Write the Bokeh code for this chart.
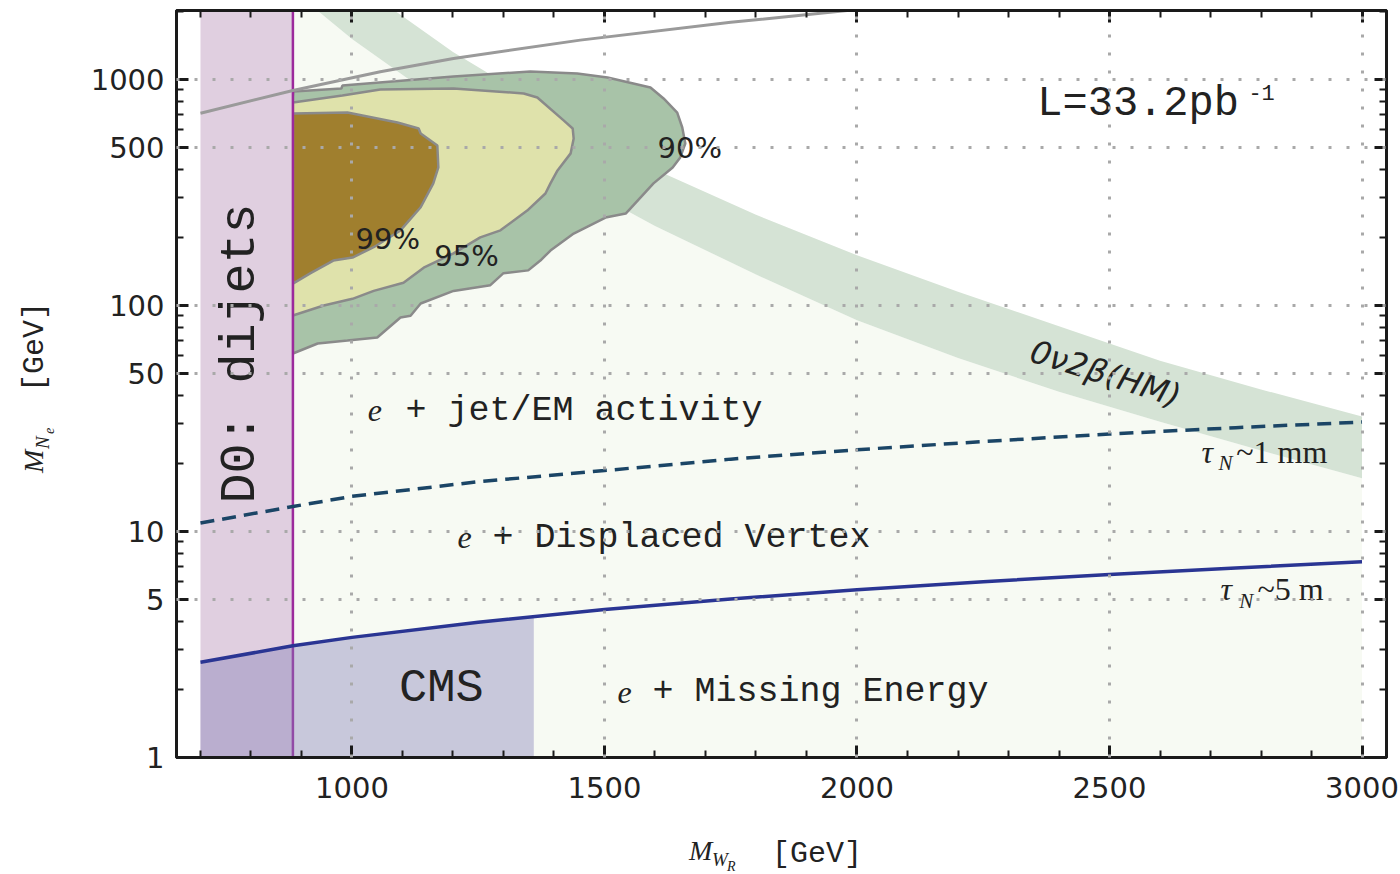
import numpy as np
from bokeh.plotting import figure
from bokeh.layouts import row, column
from bokeh.models import (Range1d, FixedTicker, LinearAxis, LogAxis, NumeralTickFormatter, Div,
                          CustomLabelingPolicy)
from bokeh.core.properties import value
from bokeh.embed import file_html
from bokeh.resources import INLINE

# ---------------- ticks ----------------
x_major = [1000, 1500, 2000, 2500, 3000]
x_minor = [700, 800, 900, 1100, 1200, 1300, 1400, 1600, 1700, 1800, 1900,
           2100, 2200, 2300, 2400, 2600, 2700, 2800, 2900]
y_major = [1, 5, 10, 50, 100, 500, 1000]
y_minor = [2, 3, 4, 6, 7, 8, 9, 20, 30, 40, 60, 70, 80, 90,
           200, 300, 400, 600, 700, 800, 900, 2000]
x_grid = [1000, 1500, 2000, 2500, 3000]
y_grid = [5, 10, 50, 100, 500, 1000]

# ---------------- regions ----------------
d0_left = 700
d0_limit = 883
region_top = 2600

band_x = [883, 1000, 1200, 1400, 1600, 1800, 2000, 2200, 2400, 2600, 2800, 3000]
band_lower = [2480, 1509, 727, 393, 225, 137, 86, 58.5, 41.5, 30.6, 22.8, 17.2]
band_upper = [4500, 2745, 1322, 714, 400, 252, 167, 115, 81, 57, 42.5, 32.3]

cl90_x = [883, 884, 979, 981, 1201, 1353, 1446, 1506, 1591, 1617, 1644, 1654, 1660,
          1650, 1635, 1597, 1542, 1502, 1439, 1393, 1373, 1349, 1300, 1274, 1201,
          1136, 1116, 1096, 1050, 991, 932, 883]
cl90_y = [841, 885, 912, 940, 1031, 1085, 1063, 1021, 922, 824, 714, 613, 521,
          452, 408, 347, 255, 245, 208, 175, 158, 143, 139, 123, 116,
          102, 90, 88.5, 72.2, 70, 67.9, 61.3]

cl95_x = [883, 981, 1056, 1201, 1340, 1367, 1419, 1437, 1439, 1433, 1407, 1393,
          1383, 1347, 1294, 1254, 1201, 1142, 1102, 1043, 1001, 944, 883]
cl95_y = [791, 849, 903, 912, 867, 832, 659, 607, 548, 471, 396, 347,
          313, 263, 215, 200, 170, 147, 126, 116, 107, 100, 90.3]

cl99_x = [883, 991, 1090, 1132, 1136, 1169, 1171, 1161, 1136, 1096, 1043, 1001, 963, 918, 883]
cl99_y = [707, 714, 645, 607, 577, 510, 408, 347, 272, 215, 181, 163, 158, 139, 125]

# ---------------- lines ----------------
mn_eq_mw_x = [700, 883, 1056, 1201, 1452, 1750, 2000, 2100]
mn_eq_mw_y = [709, 894, 1082, 1239, 1493, 1790, 2040, 2140]

tau_x = [700, 883, 1000, 1250, 1500, 1750, 2000, 2250, 2500, 2750, 3000]
tau_1mm = [10.9, 12.9, 14.3, 16.6, 18.6, 20.9, 23.0, 25.0, 27.0, 28.8, 30.5]
tau_5m = [2.64, 3.12, 3.40, 3.97, 4.52, 5.03, 5.53, 6.00, 6.46, 6.90, 7.34]

cms_x = [700, 883, 1000, 1250, 1360]
cms_top = [2.64, 3.12, 3.40, 3.97, 4.18]

# ---------------- text positions ----------------
mono_lbl_x = [1106, 1278, 1595]
mono_lbl_y = [34.3, 9.4, 1.94]
mono_lbl_t = ["+ jet/EM activity", "+ Displaced Vertex", "+ Missing Energy"]
e_x = [1031, 1209, 1526]

cl_lbl_x = [1605, 1007, 1163]
cl_lbl_y = [495, 196, 166]
cl_lbl_t = ["90%", "99%", "95%"]

PALE = "#f7faf3"
BAND = "#d5e3d5"
C90 = "#a8c3a8"
C95 = "#dfe2ab"
C99 = "#a07f2e"
PINK = "#e0cfe0"
D0LINE = "#9c2a9c"
TXT = "#222222"

p = figure(width=1340, height=812,
           x_range=Range1d(652.5, 3048.5), y_range=Range1d(1, 2019),
           y_axis_type="log", output_backend="svg", toolbar_location=None,
           min_border_left=116, min_border_right=14, min_border_top=10, min_border_bottom=55,
           margin=0)
p.background_fill_color = "white"
p.outline_line_color = "#1a1a1a"
p.outline_line_width = 3

# axes
xt = FixedTicker(ticks=x_major, minor_ticks=x_minor)
yt = FixedTicker(ticks=y_major, minor_ticks=y_minor)

def style_axis(ax, ticker, labels=True):
    ax.ticker = ticker
    ax.major_tick_in = 12
    ax.major_tick_out = 0
    ax.minor_tick_in = 7
    ax.minor_tick_out = 0
    ax.major_tick_line_width = 3
    ax.minor_tick_line_width = 2
    ax.major_tick_line_color = "#1a1a1a"
    ax.minor_tick_line_color = "#1a1a1a"
    ax.axis_line_width = 3
    ax.axis_line_color = "#1a1a1a"
    ax.formatter = NumeralTickFormatter(format="0")
    if labels:
        ax.major_label_text_font = "DejaVu Sans"
        ax.major_label_text_font_size = "29px"
        ax.major_label_text_color = TXT
    else:
        # mirrored tick marks only: the labeling policy keeps no labels
        ax.major_label_policy = CustomLabelingPolicy(code="return []")
        ax.major_label_text_font_size = "1px"
        ax.major_label_standoff = 0

style_axis(p.xaxis[0], xt)
p.xaxis[0].major_label_standoff = 19
style_axis(p.yaxis[0], yt)
p.yaxis[0].major_label_standoff = 12

top_ax = LinearAxis()
style_axis(top_ax, FixedTicker(ticks=x_major, minor_ticks=x_minor), labels=False)
p.add_layout(top_ax, "above")
right_ax = LogAxis()
style_axis(right_ax, FixedTicker(ticks=y_major, minor_ticks=y_minor), labels=False)
p.add_layout(right_ax, "right")

# grid
p.xgrid.ticker = FixedTicker(ticks=x_grid)
p.ygrid.ticker = FixedTicker(ticks=y_grid)
for g in (p.xgrid[0], p.ygrid[0]):
    g.grid_line_color = "#a9a9a9"
    g.grid_line_dash = "3 15"
    g.grid_line_width = 3
    g.level = "overlay"

# regions
p.varea(x=band_x, y1=1, y2=band_lower, fill_color=PALE)
p.varea(x=band_x, y1=band_lower, y2=band_upper, fill_color=BAND)
for xs, ys, col in ((cl90_x, cl90_y, C90), (cl95_x, cl95_y, C95), (cl99_x, cl99_y, C99)):
    p.patch(xs, ys, fill_color=col, line_color="#8a8a8a", line_width=2.5)

p.quad(left=d0_left, right=d0_limit, bottom=1, top=region_top, fill_color=PINK, line_color=None)
p.segment(x0=d0_limit, y0=1, x1=d0_limit, y1=region_top, line_color=D0LINE, line_width=2.5)
p.varea(x=cms_x, y1=1, y2=cms_top, fill_color=(130, 125, 182), fill_alpha=0.4)

p.line(mn_eq_mw_x, mn_eq_mw_y, line_color="#9a9a9a", line_width=3)
p.line(tau_x, tau_1mm, line_color="#1b4566", line_width=3.5, line_dash="14 8")
p.line(tau_x, tau_5m, line_color="#2a3593", line_width=3.5)

# texts
p.text(x=mono_lbl_x, y=mono_lbl_y, text=mono_lbl_t, text_font=value("Liberation Mono"),
       text_font_size="35px", text_color=TXT, text_align="left", text_baseline="middle")
p.text(x=e_x, y=mono_lbl_y, text=["e", "e", "e"], text_font=value("Liberation Serif"),
       text_font_style="italic", text_font_size="32px", text_color=TXT,
       text_align="left", text_baseline="middle")
p.text(x=[1177], y=[2.02], text=["CMS"], text_font=value("Liberation Mono"),
       text_font_size="47px", text_color=TXT, text_align="center", text_baseline="middle")
p.text(x=[779], y=[61.3], text=["D0: dijets"], text_font=value("Liberation Mono"),
       text_font_size="50px", text_color=TXT, text_align="center", text_baseline="middle",
       angle=np.pi / 2)
p.text(x=[2357], y=[775], text=["L=33.2pb"], text_font=value("Liberation Mono"),
       text_font_size="42px", text_color=TXT, text_align="left", text_baseline="middle")
p.text(x=[2775], y=[876], text=["-1"], text_font=value("Liberation Mono"),
       text_font_size="22px", text_color=TXT, text_align="left", text_baseline="middle")
p.text(x=cl_lbl_x, y=cl_lbl_y, text=cl_lbl_t, text_font=value("DejaVu Sans"),
       text_font_size="29px", text_color=TXT, text_align="left", text_baseline="middle")
p.text(x=[2492], y=[50.0], text=["0ν2β(HM)"], text_font=value("DejaVu Sans"),
       text_font_style="italic", text_font_size="32px", text_color=TXT,
       text_align="center", text_baseline="middle", angle=-0.305)
# tau labels
p.text(x=[2682, 2720], y=[22.4, 5.54], text=["τ", "τ"], text_font=value("Liberation Serif"),
       text_font_style="italic", text_font_size="32px", text_color=TXT,
       text_align="left", text_baseline="middle")
p.text(x=[2716, 2757], y=[20.0, 4.95], text=["N", "N"], text_font=value("Liberation Serif"),
       text_font_style="italic", text_font_size="21px", text_color=TXT,
       text_align="left", text_baseline="middle")
p.text(x=[2751, 2793], y=[22.4, 5.54], text=["~1 mm", "~5 m"], text_font=value("Liberation Serif"),
       text_font_size="32px", text_color=TXT, text_align="left", text_baseline="middle")

# ---------------- axis titles (HTML, outside the figure canvas) ----------------
SERIF = "font-family:'Liberation Serif';font-style:italic;line-height:1;white-space:nowrap;color:#222;"
MONO = "font-family:'Liberation Mono';line-height:1;white-space:nowrap;color:#222;"

def piece(left, top, size, style, txt, rot=False):
    tr = "transform:rotate(-90deg);transform-origin:left top;" if rot else ""
    return (f'<span style="position:absolute;left:{left}px;top:{top}px;'
            f'font-size:{size}px;{style}{tr}">{txt}</span>')

xlab_html = ('<div style="position:relative;width:1340px;height:62px;">'
             + piece(629, 24.5, 28, SERIF, "M")
             + piece(652, 38, 19, SERIF, "W")
             + piece(667, 48.3, 14, SERIF, "R")
             + piece(712, 27, 30, MONO, "[GeV]")
             + '</div>')
ylab_html = ('<div style="position:relative;width:60px;height:874px;">'
             + piece(19.5, 473, 28, SERIF, "M", True)
             + piece(33, 449, 19, SERIF, "N", True)
             + piece(43.3, 434, 14, SERIF, "e", True)
             + piece(20, 392, 30, MONO, "[GeV]", True)
             + '</div>')

xlab = Div(text=xlab_html, width=1340, height=62, margin=0, styles={"overflow": "visible"})
ylab = Div(text=ylab_html, width=60, height=874, margin=0, styles={"overflow": "visible"})

layout = row(ylab, column(p, xlab, spacing=0), spacing=0)

open("out.html", "w").write(file_html(layout, INLINE))
